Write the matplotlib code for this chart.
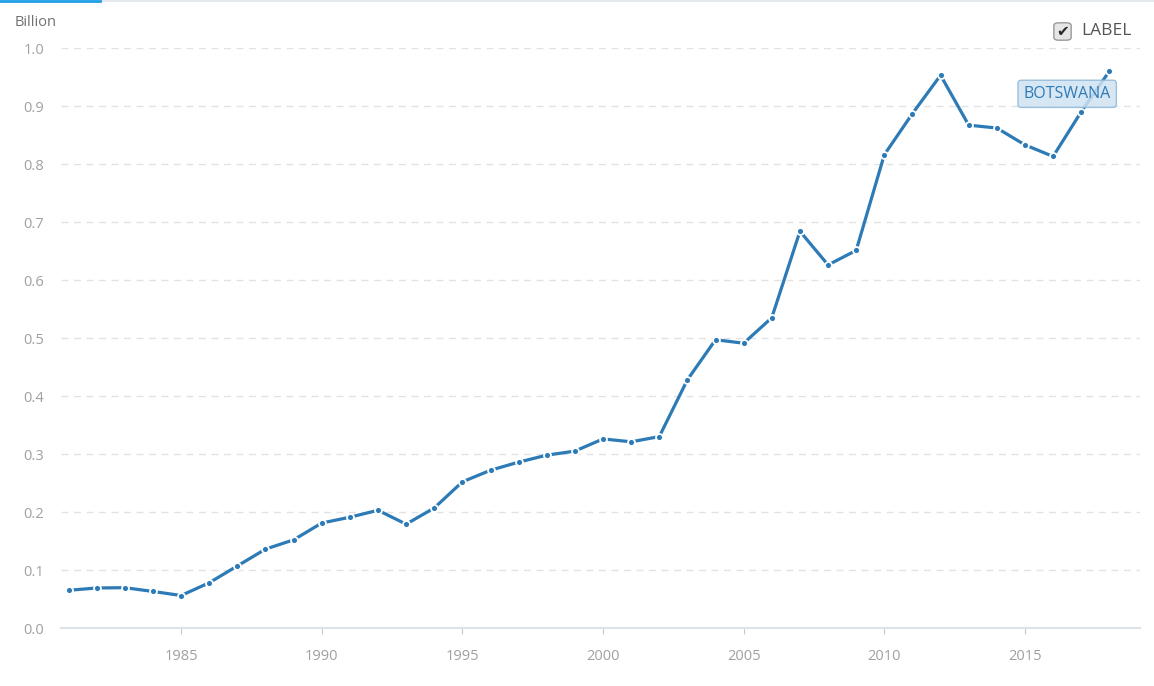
import numpy as np
import matplotlib.pyplot as plt
from matplotlib.patches import FancyBboxPatch
from matplotlib.lines import Line2D

plt.rcParams['font.family'] = ['Open Sans', 'DejaVu Sans']

# Botswana, values in billion
years = list(range(1981, 2019))
values = [0.065, 0.069, 0.0695, 0.063, 0.056, 0.078, 0.107, 0.136, 0.152, 0.181,
          0.191, 0.203, 0.179, 0.207, 0.252, 0.272, 0.286, 0.298, 0.305, 0.326,
          0.321, 0.330, 0.428, 0.497, 0.491, 0.535, 0.684, 0.626, 0.651, 0.816,
          0.887, 0.953, 0.867, 0.862, 0.833, 0.813, 0.890, 0.960]
xticks = [1985, 1990, 1995, 2000, 2005, 2010, 2015]
yticks = [0.0, 0.1, 0.2, 0.3, 0.4, 0.5, 0.6, 0.7, 0.8, 0.9, 1.0]
series_name = "BOTSWANA"

line_col = "#2d7bb6"
grey_txt = "#a0a0a0"

fig = plt.figure(figsize=(11.54, 6.86), dpi=100)
W, H = 1154, 686
ax = fig.add_axes([61 / W, 1 - 628 / H, (1140 - 61) / W, (628 - 48) / H])

ax.plot(years, values, color=line_col, lw=2.3, marker="o", markersize=5,
        markerfacecolor=line_col, markeredgecolor="white", markeredgewidth=1.3,
        clip_on=False, zorder=3)

ax.set_xlim(1980.73, 2019.09)
ax.set_ylim(0, 1.0)
ax.set_xticks(xticks)
ax.set_yticks(yticks)
ax.set_yticklabels(["%.1f" % v for v in yticks])

# dashed horizontal grid
for v in yticks[1:]:
    ax.axhline(v, color="#e2e2e2", lw=1, ls=(0, (5, 4)), zorder=1)

for s in ["top", "right", "left"]:
    ax.spines[s].set_visible(False)
ax.spines["bottom"].set_color("#dde3e8")
ax.spines["bottom"].set_linewidth(1.5)

ax.tick_params(axis="y", length=0, pad=12, labelsize=10.5, labelcolor=grey_txt)
ax.tick_params(axis="x", length=4, width=0.8, color="#c8c8c8", direction="out",
               pad=11, labelsize=10.5, labelcolor=grey_txt)

# series label box
ax.text(2016.5, 0.921, series_name, color=line_col, fontsize=11.5, ha="center", va="center",
        bbox=dict(boxstyle="round,pad=0.35,rounding_size=0.2", fc="#cfe2f1", ec="#8db8d9",
                  lw=1, alpha=0.85), zorder=4)

# unit label
fig.text(15 / W, 1 - 22 / H, "Billion", fontsize=10.5, color="#707070", va="center", ha="left")

# top border with blue accent
fig.add_artist(Line2D([0, 1], [1 - 0.5 / H, 1 - 0.5 / H], color="#e3e8ec", lw=1.5))
fig.add_artist(Line2D([0, 100 / W], [1 - 0.5 / H, 1 - 0.5 / H], color="#1f9fe6", lw=2))

# checkbox legend
cb = FancyBboxPatch((1055 / W, 1 - 39.5 / H), 15 / W, 16 / H,
                    boxstyle="round,pad=0.001,rounding_size=0.004",
                    transform=fig.transFigure, fc="#e6e6e6", ec="#9a9a9a", lw=1)
fig.add_artist(cb)
fig.text(1062.5 / W, 1 - 31.5 / H, "\u2714", fontsize=11, color="#2a2a2a",
         ha="center", va="center", family="DejaVu Sans")
fig.text(1081 / W, 1 - 31 / H, "LABEL", fontsize=12.5, color="#555555",
         ha="left", va="center")

fig.savefig("out.png", dpi=100)
